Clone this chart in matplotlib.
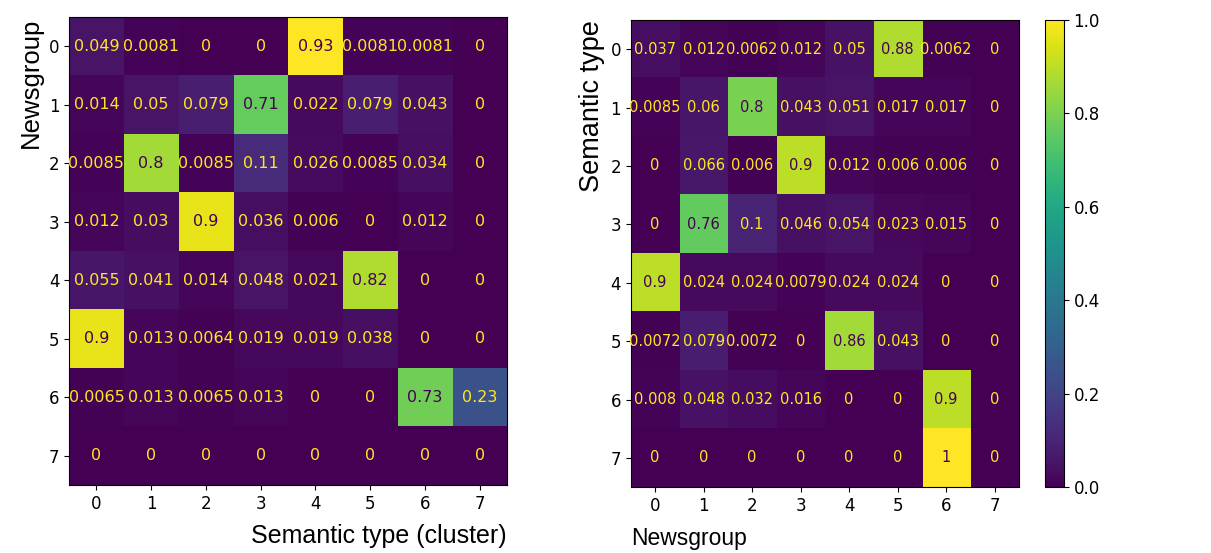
import numpy as np
import matplotlib
matplotlib.use('Agg')
import matplotlib.pyplot as plt

labels = [str(i) for i in range(8)]

# newsgroup (rows) vs semantic type (cols)
news_vs_type = np.array([
    [0.049, 0.0081, 0, 0, 0.93, 0.0081, 0.0081, 0],
    [0.014, 0.05, 0.079, 0.71, 0.022, 0.079, 0.043, 0],
    [0.0085, 0.8, 0.0085, 0.11, 0.026, 0.0085, 0.034, 0],
    [0.012, 0.03, 0.9, 0.036, 0.006, 0, 0.012, 0],
    [0.055, 0.041, 0.014, 0.048, 0.021, 0.82, 0, 0],
    [0.9, 0.013, 0.0064, 0.019, 0.019, 0.038, 0, 0],
    [0.0065, 0.013, 0.0065, 0.013, 0, 0, 0.73, 0.23],
    [0, 0, 0, 0, 0, 0, 0, 0],
])

# semantic type (rows) vs newsgroup (cols)
type_vs_news = np.array([
    [0.037, 0.012, 0.0062, 0.012, 0.05, 0.88, 0.0062, 0],
    [0.0085, 0.06, 0.8, 0.043, 0.051, 0.017, 0.017, 0],
    [0, 0.066, 0.006, 0.9, 0.012, 0.006, 0.006, 0],
    [0, 0.76, 0.1, 0.046, 0.054, 0.023, 0.015, 0],
    [0.9, 0.024, 0.024, 0.0079, 0.024, 0.024, 0, 0],
    [0.0072, 0.079, 0.0072, 0, 0.86, 0.043, 0, 0],
    [0.008, 0.048, 0.032, 0.016, 0, 0, 0.9, 0],
    [0, 0, 0, 0, 0, 0, 1, 0],
])

cmap = plt.get_cmap('viridis')
LAB = 'Liberation Sans'

fig = plt.figure(figsize=(12.11, 5.53), dpi=100)
ax1 = fig.add_axes([0.057, 0.123, 0.3617, 0.846])
ax2 = fig.add_axes([0.521, 0.119, 0.3204, 0.845])
cax = fig.add_axes([0.863, 0.119, 0.0155, 0.845])


def draw(ax, cm, vmax, fs):
    im = ax.imshow(cm, cmap=cmap, vmin=0, vmax=vmax, aspect='auto')
    thresh = (cm.max() + cm.min()) / 2.0
    for i in range(cm.shape[0]):
        for j in range(cm.shape[1]):
            col = cmap(0.0) if cm[i, j] >= thresh else cmap(1.0)
            ax.text(j, i, format(cm[i, j], '.2g'), ha='center', va='center',
                    color=col, fontsize=fs)
    ax.set_xticks(range(8))
    ax.set_yticks(range(8))
    ax.set_xticklabels(labels, fontsize=12)
    ax.set_yticklabels(labels, fontsize=12)
    return im


draw(ax1, news_vs_type, news_vs_type.max(), 11.5)
ax1.set_xlabel('Semantic type (cluster)', loc='right', labelpad=8, family=LAB, size=18)
ax1.set_ylabel('Newsgroup', loc='top', family=LAB, size=18.5)

im2 = draw(ax2, type_vs_news, 1.0, 10.5)
ax2.set_xlabel('Newsgroup', loc='left', labelpad=9, family=LAB, size=16.5)
ax2.set_ylabel('Semantic type', loc='top', family=LAB, size=19.5)

cb = fig.colorbar(im2, cax=cax)
cb.set_ticks([0.0, 0.2, 0.4, 0.6, 0.8, 1.0])
cb.ax.tick_params(labelsize=12)

plt.savefig('out.png', dpi=100)
